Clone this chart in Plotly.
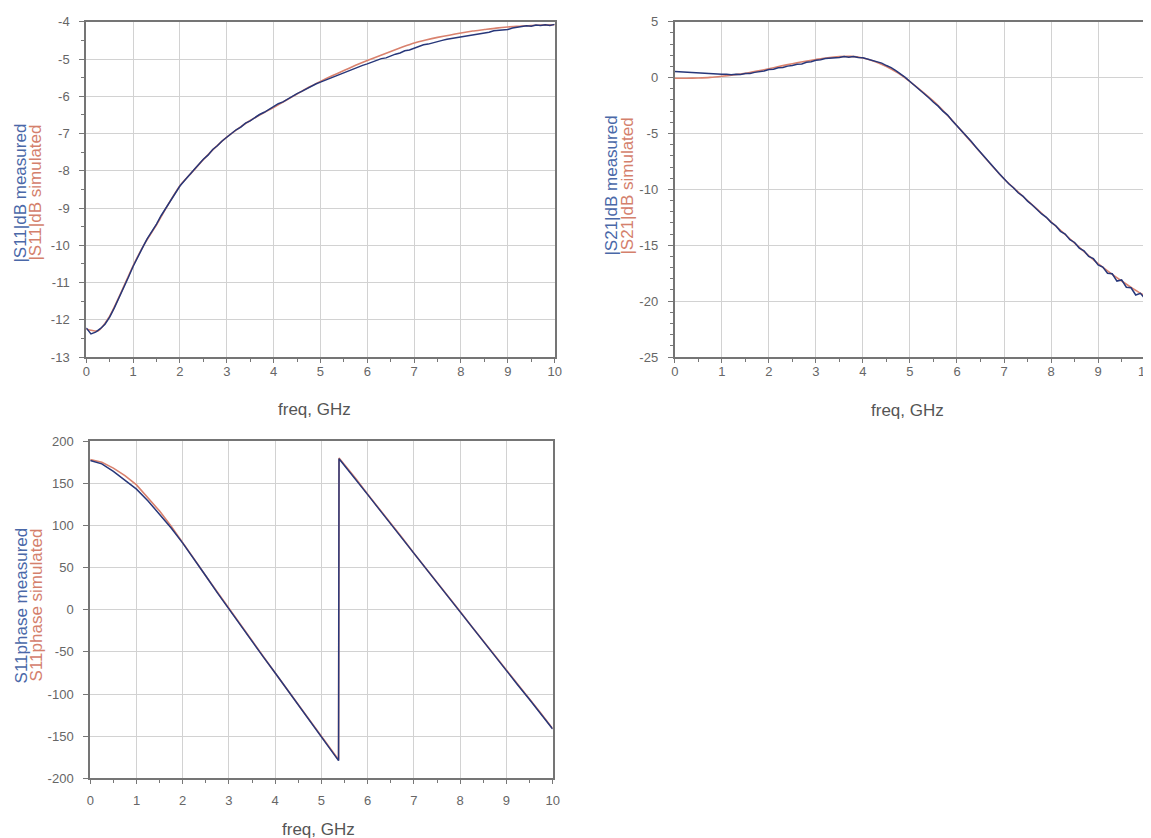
import numpy as np
import plotly.graph_objects as go

# ---------------- data ----------------
freq_fine = np.round(np.arange(0, 10.001, 0.1), 2)
freq_sim = np.round(np.arange(0, 10.001, 0.25), 2)

s11_db_sim = [-12.25, -12.3, -11.9, -11.25, -10.55, -9.95, -9.45, -8.9, -8.4, -8.05,
              -7.7, -7.38, -7.1, -6.86, -6.65, -6.47, -6.3, -6.12, -5.94, -5.76,
              -5.6, -5.45, -5.31, -5.17, -5.04, -4.92, -4.8, -4.68, -4.57, -4.49,
              -4.42, -4.36, -4.3, -4.25, -4.21, -4.17, -4.14, -4.12, -4.1, -4.09, -4.08]

s11_db_meas = [-12.22, -12.38, -12.33, -12.24, -12.12, -11.93, -11.68, -11.42, -11.12, -10.86,
               -10.57, -10.3, -10.07, -9.83, -9.64, -9.43, -9.2, -9.01, -8.8, -8.62,
               -8.41, -8.26, -8.1, -7.97, -7.83, -7.69, -7.58, -7.43, -7.33, -7.2,
               -7.1, -7.0, -6.9, -6.83, -6.72, -6.66, -6.57, -6.49, -6.43, -6.35,
               -6.29, -6.2, -6.15, -6.07, -6.0, -5.93, -5.87, -5.8, -5.74, -5.67,
               -5.62, -5.57, -5.5, -5.46, -5.4, -5.37, -5.3, -5.27, -5.2, -5.17,
               -5.13, -5.08, -5.05, -4.99, -4.97, -4.91, -4.87, -4.84, -4.78, -4.76,
               -4.71, -4.68, -4.62, -4.6, -4.56, -4.54, -4.5, -4.47, -4.45, -4.41,
               -4.4, -4.37, -4.36, -4.33, -4.32, -4.29, -4.28, -4.24, -4.23, -4.2,
               -4.21, -4.17, -4.15, -4.14, -4.11, -4.12, -4.09, -4.1, -4.08, -4.1, -4.07]

s21_db_sim = [-0.05, -0.05, -0.03, 0.02, 0.12, 0.24, 0.38, 0.58, 0.8, 1.03,
              1.25, 1.45, 1.62, 1.78, 1.88, 1.9, 1.75, 1.45, 1.0, 0.4,
              -0.35, -1.2, -2.1, -3.15, -4.3, -5.5, -6.7, -7.9, -9.05, -10.05,
              -11.0, -11.95, -12.9, -13.85, -14.8, -15.75, -16.65, -17.45, -18.2, -18.9, -19.55]

s21_db_meas = [0.55, 0.52, 0.5, 0.46, 0.48, 0.43, 0.4, 0.38, 0.36, 0.33,
               0.3, 0.3, 0.26, 0.3, 0.28, 0.36, 0.38, 0.47, 0.52, 0.6,
               0.72, 0.76, 0.88, 0.9, 1.03, 1.08, 1.2, 1.22, 1.38, 1.42,
               1.55, 1.6, 1.72, 1.74, 1.82, 1.8, 1.88, 1.82, 1.9, 1.8,
               1.78, 1.66, 1.6, 1.42, 1.3, 1.08, 0.9, 0.62, 0.35, 0.02,
               -0.35, -0.7, -1.05, -1.45, -1.8, -2.2, -2.55, -3.0, -3.35, -3.85,
               -4.3, -4.75, -5.2, -5.7, -6.2, -6.7, -7.15, -7.7, -8.1, -8.6,
               -9.05, -9.5, -9.85, -10.3, -10.6, -11.05, -11.4, -11.8, -12.2, -12.5,
               -12.95, -13.25, -13.75, -14.0, -14.5, -14.75, -15.25, -15.5, -16.0, -16.2,
               -16.75, -16.95, -17.5, -17.55, -18.2, -18.1, -18.75, -18.8, -19.45, -19.3, -19.8]

phase_freq = [0, 0.25, 0.5, 0.75, 1, 1.25, 1.5, 1.75, 2, 2.25, 2.5, 2.75, 3, 3.25, 3.5,
              3.75, 4, 4.25, 4.5, 4.75, 5, 5.25, 5.37, 5.38, 5.5, 5.75, 6, 6.25, 6.5,
              6.75, 7, 7.25, 7.5, 7.75, 8, 8.25, 8.5, 8.75, 9, 9.25, 9.5, 9.75, 10]
s11_phase_sim = [178, 175, 168, 159, 148, 133, 117, 99, 80, 60, 40, 20.5, 1, -18, -37,
                 -56, -75, -94, -113, -132, -150, -169, -178, 180, 172, 155, 137, 120, 102,
                 85, 67, 50, 33, 15, -2, -20, -37, -55, -72, -89, -106, -123, -141]
s11_phase_meas = [177, 173, 164, 154, 143, 129, 113, 97, 79, 60, 40, 20, 0.5, -18.5, -37,
                  -56.5, -75, -94, -113.5, -132, -150.5, -169, -179, 179, 171, 154, 136.5, 119, 101.5,
                  84, 66.5, 49.5, 32, 14.5, -2.5, -20, -37.5, -55.5, -72.5, -89.5, -106.5, -123.5, -141.5]

freq_ticks = list(range(0, 11))
s11_db_ticks = [-13, -12, -11, -10, -9, -8, -7, -6, -5, -4]
s21_db_ticks = [-25, -20, -15, -10, -5, 0, 5]
phase_ticks = [-200, -150, -100, -50, 0, 50, 100, 150, 200]

# ---------------- styling / layout ----------------
W, H = 1151, 848
MEAS = "#27377a"
SIM = "#d9826e"
MEAS_T = "#4a68a8"
SIM_T = "#d4806c"
FONT = "Liberation Sans"
TICKC = "#666666"

# mapping from target picture pixels to figure pixels (page margin + capture scale)
SX, CX, SY, CY, OFF = 0.9896, 3.9, 0.9815, 7.4, 8


def px(x):
    f = (x - CX) / SX - OFF
    return min(1.0, max(0.0, f / W))


def py(y):
    f = (y - CY) / SY - OFF
    return min(1.0, max(0.0, 1 - f / H))


panels = [
    dict(xd=(86, 554), yd=(22, 357), yr=(-13, -4), ticks=s11_db_ticks, minor=0.5, shape="spline",
         xs=freq_sim, ys=s11_db_sim, xm=freq_fine, ym=s11_db_meas, xstand=-3,
         t1="|S11|dB measured", t2="|S11|dB simulated", tx=(20.5, 35.5), ty=193, xt=(314, 409)),
    dict(xd=(674, 1144), yd=(22, 357), yr=(-25, 5), ticks=s21_db_ticks, minor=1, shape="spline",
         xs=freq_sim, ys=s21_db_sim, xm=freq_fine, ym=s21_db_meas, xstand=-3,
         t1="|S21|dB measured", t2="|S21|dB simulated", tx=(611, 627), ty=186, xt=(907, 410)),
    dict(xd=(90, 552), yd=(441, 778), yr=(-200, 200), ticks=phase_ticks, minor=None, shape="linear",
         xs=phase_freq, ys=s11_phase_sim, xm=phase_freq, ym=s11_phase_meas, xstand=5,
         t1="S11phase measured", t2="S11phase simulated", tx=(21, 36), ty=605, xt=(318, 829)),
]

fig = go.Figure()
layout = dict(
    width=W, height=H, margin=dict(l=0, r=0, t=0, b=0), autosize=False,
    paper_bgcolor="white", plot_bgcolor="white", showlegend=False,
    font=dict(family=FONT, size=13, color=TICKC),
)
annotations = []
for i, p in enumerate(panels, start=1):
    xa = "x" if i == 1 else f"x{i}"
    ya = "y" if i == 1 else f"y{i}"
    line_s = dict(color=SIM, width=1.6, shape=p["shape"])
    if p["shape"] == "spline":
        line_s["smoothing"] = 0.6
    fig.add_trace(go.Scatter(x=p["xs"], y=p["ys"], mode="lines", xaxis=xa, yaxis=ya, line=line_s))
    fig.add_trace(go.Scatter(x=p["xm"], y=p["ym"], mode="lines", xaxis=xa, yaxis=ya,
                             line=dict(color=MEAS, width=1.5)))
    xkey = "xaxis" if i == 1 else f"xaxis{i}"
    ykey = "yaxis" if i == 1 else f"yaxis{i}"
    layout[xkey] = dict(
        domain=[px(p["xd"][0]), px(p["xd"][1])], range=[0, 10],
        tickvals=freq_ticks, ticktext=[str(v) for v in freq_ticks],
        ticks="outside", ticklen=4, tickwidth=1, tickcolor="#777",
        ticklabelstandoff=p["xstand"],
        showgrid=True, gridcolor="#d2d2d2", gridwidth=1, zeroline=False,
        showline=True, linecolor="#757575", linewidth=2, mirror=True,
        tickfont=dict(family=FONT, size=13, color=TICKC), anchor=ya,
        minor=dict(dtick=0.5, ticks="outside", ticklen=3, tickcolor="#777", showgrid=False),
        fixedrange=True,
    )
    ydict = dict(
        domain=[py(p["yd"][1]), py(p["yd"][0])], range=list(p["yr"]),
        tickvals=p["ticks"], ticktext=[str(v) for v in p["ticks"]],
        ticks="outside", ticklen=5, tickwidth=1, tickcolor="#777", ticklabelstandoff=7,
        showgrid=True, gridcolor="#d2d2d2", gridwidth=1, zeroline=False,
        showline=True, linecolor="#757575", linewidth=2, mirror=True,
        tickfont=dict(family=FONT, size=13, color=TICKC), anchor=xa,
        fixedrange=True,
    )
    if p["minor"]:
        ydict["minor"] = dict(dtick=p["minor"], ticks="outside", ticklen=3,
                              tickcolor="#777", showgrid=False)
    layout[ykey] = ydict
    annotations.append(dict(
        xref="paper", yref="paper", x=px(p["xt"][0]), y=py(p["xt"][1]),
        xanchor="center", yanchor="middle", showarrow=False,
        text="freq, GHz", font=dict(family=FONT, size=17, color="#555")))
    for txt, col, xx in ((p["t1"], MEAS_T, p["tx"][0]), (p["t2"], SIM_T, p["tx"][1])):
        annotations.append(dict(
            xref="paper", yref="paper", x=px(xx), y=py(p["ty"]),
            xanchor="center", yanchor="middle", showarrow=False, textangle=-90,
            text=txt, font=dict(family=FONT, size=17, color=col)))
layout["annotations"] = annotations
fig.update_layout(**layout)
fig.write_html("out.html")
